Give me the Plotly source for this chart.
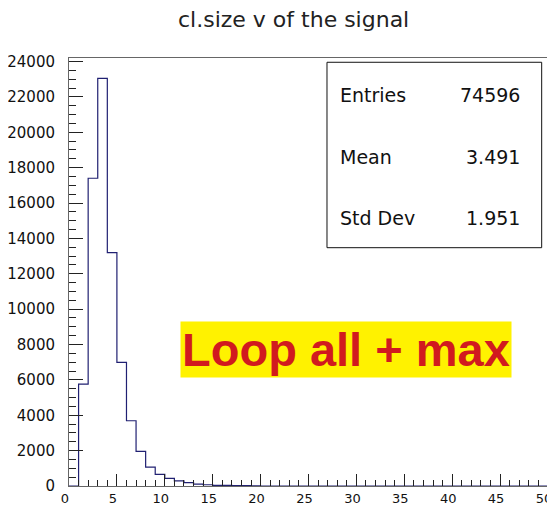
import numpy as np
import plotly.graph_objects as go

# ---- data ----
bin_low_edges = list(range(0, 50))          # bins of width 1 from 0 to 50
counts = [0, 5760, 17400, 23050, 13200, 6990, 3690, 1960, 1070, 660,
          430, 290, 190, 110, 70, 40, 30, 25, 20, 15] + [0] * 30
bin_width = 1

title_text = "cl.size v of the signal"
stat_names = ["Entries", "Mean", "Std Dev"]
stat_values = ["74596", "3.491", "1.951"]
label_text = "Loop all + max"

x_ticks = list(range(0, 51, 5))
y_ticks = list(range(0, 24001, 2000))

# ---- figure ----
x_step = bin_low_edges + [bin_low_edges[-1] + bin_width]
y_step = counts + [counts[-1]]

fig = go.Figure()
fig.add_trace(go.Scatter(
    x=x_step, y=y_step, mode="lines", line_shape="hv",
    line=dict(color="#202072", width=1.2), hoverinfo="skip", showlegend=False,
))

font_main = "DejaVu Sans, Arial, sans-serif"

# the page body adds an 8px offset, so the figure is 8px smaller than the window
fig.update_layout(
    width=547, height=497,
    margin=dict(l=61, r=7, t=50, b=19),
    paper_bgcolor="white", plot_bgcolor="white",
    showlegend=False,
    font=dict(family=font_main, color="#111111"),
)

fig.update_xaxes(
    range=[0, 50], tickvals=x_ticks, ticktext=[str(v) for v in x_ticks],
    ticks="inside", ticklen=12, tickcolor="#222", tickwidth=1,
    minor=dict(ticks="inside", ticklen=6, dtick=1, tickcolor="#222", showgrid=False),
    showgrid=False, zeroline=False,
    showline=True, mirror=True, linecolor="#666", linewidth=1,
    tickfont=dict(family=font_main, size=13, color="#111"),
    ticklabelstandoff=0, ticklabelshift=-4,
    automargin=False, ticklabeloverflow="allow",
)
fig.update_yaxes(
    range=[0, 24200], tickvals=y_ticks, ticktext=[str(v) for v in y_ticks],
    ticks="inside", ticklen=14, tickcolor="#222", tickwidth=1,
    minor=dict(ticks="inside", ticklen=7, dtick=500, tickcolor="#222", showgrid=False),
    showgrid=False, zeroline=False,
    showline=True, mirror=True, linecolor="#666", linewidth=1,
    tickfont=dict(family=font_main, size=15, color="#111"),
    ticklabelstandoff=10, automargin=False, ticklabeloverflow="allow",
)

# title
fig.add_annotation(
    text=title_text, xref="paper", yref="paper", x=0.4697, y=1.0888,
    xanchor="center", yanchor="middle", showarrow=False,
    font=dict(family=font_main, size=22, color="#222"),
)

# stats box
fig.add_shape(type="rect", xref="paper", yref="paper",
              x0=0.5386, x1=0.9868, y0=0.5568, y1=0.99,
              line=dict(color="#111", width=1), fillcolor="white", layer="above")
stat_y = [0.9136, 0.7694, 0.6262]
for name, val, yy in zip(stat_names, stat_values, stat_y):
    fig.add_annotation(text=name, xref="paper", yref="paper", x=0.5616, y=yy,
                       xanchor="left", yanchor="middle", showarrow=False,
                       font=dict(family=font_main, size=19, color="#111"))
    fig.add_annotation(text=val, xref="paper", yref="paper", x=0.9457, y=yy,
                       xanchor="right", yanchor="middle", showarrow=False,
                       font=dict(family=font_main, size=19, color="#111"))

# highlighted label
fig.add_annotation(
    text="<b>" + label_text + "</b>", xref="paper", yref="paper",
    x=0.5793, y=0.3189, xanchor="center", yanchor="middle", showarrow=False,
    bgcolor="#fff200", borderpad=1,
    font=dict(family="Liberation Sans, Arial, sans-serif", size=47, color="#d11a1f"),
)

fig.write_html("out.html")
